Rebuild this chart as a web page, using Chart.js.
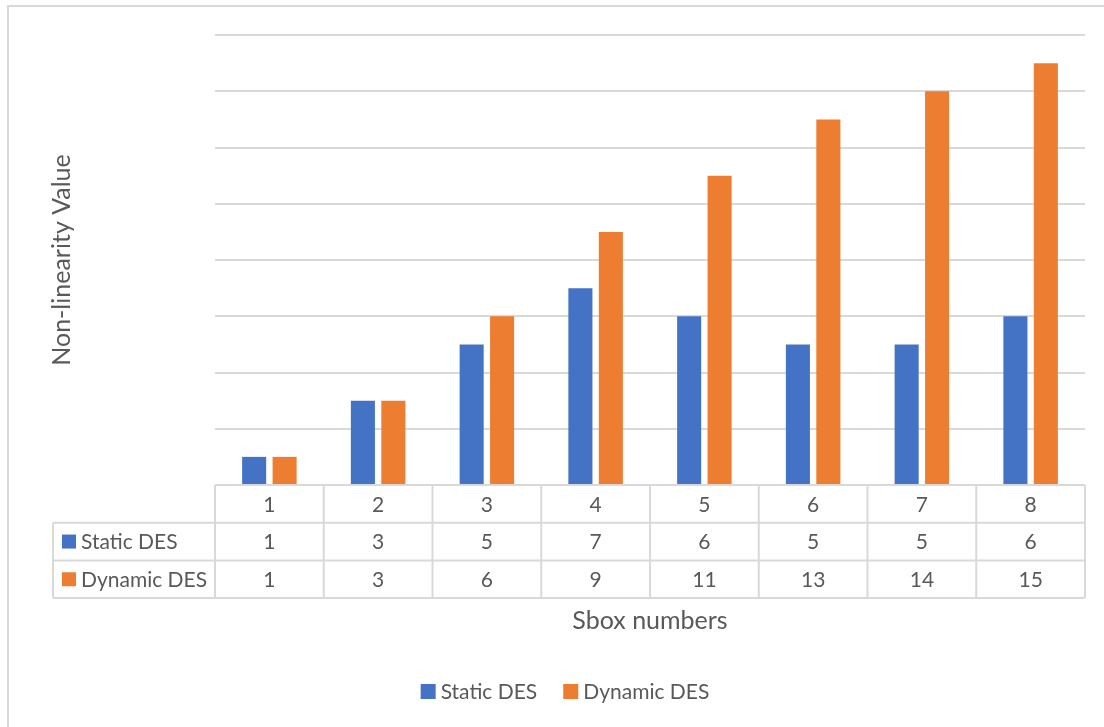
<!DOCTYPE html>
<html>
<head>
<meta charset="utf-8">
<script src="https://cdn.jsdelivr.net/npm/chart.js@4"></script>
<style>
  html, body { margin: 0; padding: 0; background: #fff; }
  #wrap { width: 1104px; height: 727px; position: relative; }
</style>
</head>
<body>
<div id="wrap"><canvas id="chart" width="1104" height="727"></canvas></div>
<script>
// data
const categories = ['1', '2', '3', '4', '5', '6', '7', '8'];
const staticDES = [1, 3, 5, 7, 6, 5, 5, 6];
const dynamicDES = [1, 3, 6, 9, 11, 13, 14, 15];
const seriesNames = ['Static DES', 'Dynamic DES'];
const seriesColors = ['#4472C4', '#ED7D31'];
const yTitle = 'Non-linearity Value';
const xTitle = 'Sbox numbers';

const FONT = 'Lato, "Open Sans", sans-serif';
const TEXT = '#595959';
const LINE = '#d9d9d9';

// draws the frame, the data table under the bars, axis titles and legend
const tablePlugin = {
    id: 'dataTable',
    beforeDraw(chart) {
        const ctx = chart.ctx;
        ctx.save();
        ctx.fillStyle = '#fff';
        ctx.fillRect(0, 0, chart.width, chart.height);
        ctx.strokeStyle = LINE;
        ctx.lineWidth = 2;
        ctx.beginPath();
        ctx.moveTo(8, chart.height);
        ctx.lineTo(8, 6);
        ctx.lineTo(chart.width, 6);
        ctx.stroke();
        ctx.restore();
    },
    afterDraw(chart) {
        const ctx = chart.ctx;
        const area = chart.chartArea;
        const x = chart.scales.x;
        const rowH = 37.7;
        const labelLeft = 53;
        const top = area.bottom;
        const colW = (area.right - area.left) / categories.length;

        ctx.save();
        ctx.strokeStyle = LINE;
        ctx.lineWidth = 2;
        ctx.beginPath();
        // header row (categories)
        ctx.moveTo(area.left, top);
        ctx.lineTo(area.right, top);
        ctx.moveTo(labelLeft, top + rowH);
        ctx.lineTo(area.right, top + rowH);
        ctx.moveTo(labelLeft, top + rowH * 2);
        ctx.lineTo(area.right, top + rowH * 2);
        ctx.moveTo(labelLeft, top + rowH * 3);
        ctx.lineTo(area.right, top + rowH * 3);
        ctx.moveTo(labelLeft, top + rowH);
        ctx.lineTo(labelLeft, top + rowH * 3);
        for (let i = 0; i <= categories.length; i++) {
            const cx = area.left + colW * i;
            ctx.moveTo(cx, top);
            ctx.lineTo(cx, top + rowH * 3);
        }
        ctx.stroke();

        ctx.fillStyle = TEXT;
        ctx.font = '21px ' + FONT;
        ctx.textAlign = 'center';
        ctx.textBaseline = 'middle';
        const rows = [categories, staticDES, dynamicDES];
        rows.forEach((row, r) => {
            row.forEach((v, i) => {
                ctx.fillText(String(v), x.getPixelForValue(i), top + rowH * r + rowH / 2 + 1);
            });
        });

        // series labels in the table
        ctx.textAlign = 'left';
        seriesNames.forEach((name, s) => {
            const cy = top + rowH * (s + 1) + rowH / 2;
            ctx.fillStyle = seriesColors[s];
            ctx.fillRect(62, cy - 7, 14, 14);
            ctx.fillStyle = TEXT;
            ctx.fillText(name, 81, cy + 1);
        });

        // axis titles
        ctx.font = '25px ' + FONT;
        ctx.textAlign = 'center';
        ctx.fillText(xTitle, 650, 621);
        ctx.save();
        ctx.translate(62, 260);
        ctx.rotate(-Math.PI / 2);
        ctx.fillText(yTitle, 0, 0);
        ctx.restore();

        // legend
        ctx.font = '21px ' + FONT;
        ctx.textAlign = 'left';
        const gap = 26;
        const widths = seriesNames.map(n => 15 + 5 + ctx.measureText(n).width);
        const total = widths.reduce((a, b) => a + b, 0) + gap;
        let lx = 565 - total / 2;
        seriesNames.forEach((name, s) => {
            ctx.fillStyle = seriesColors[s];
            ctx.fillRect(lx, 684, 15, 15);
            ctx.fillStyle = TEXT;
            ctx.fillText(name, lx + 20, 692);
            lx += widths[s] + gap;
        });
        ctx.restore();
    }
};

new Chart(document.getElementById('chart'), {
    type: 'bar',
    data: {
        labels: categories,
        datasets: [
            {
                label: seriesNames[0],
                data: staticDES,
                backgroundColor: seriesColors[0],
                categoryPercentage: 0.56,
                barPercentage: 0.79
            },
            {
                label: seriesNames[1],
                data: dynamicDES,
                backgroundColor: seriesColors[1],
                categoryPercentage: 0.56,
                barPercentage: 0.79
            }
        ]
    },
    options: {
        responsive: false,
        animation: false,
        layout: {
            padding: { left: 215, top: 35, right: 19, bottom: 242 }
        },
        plugins: {
            legend: { display: false },
            tooltip: { enabled: false }
        },
        scales: {
            x: {
                display: false,
                offset: true
            },
            y: {
                min: 0,
                max: 16,
                ticks: { stepSize: 2, display: false },
                border: { display: false },
                grid: { color: LINE, lineWidth: 2, drawTicks: false }
            }
        }
    },
    plugins: [tablePlugin]
});
</script>
</body>
</html>
